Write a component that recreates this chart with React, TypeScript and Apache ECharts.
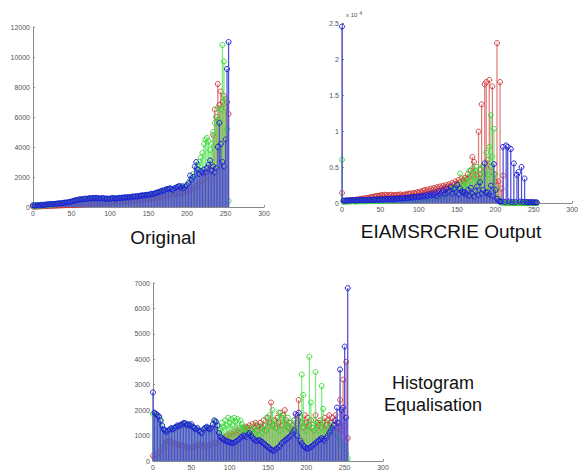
import React, { useEffect, useRef } from "react";
import * as echarts from "echarts";

// Bins are 0, 2, 4, ..., 254 (128 values, rows of 10 values = 20 bins each)
const BIN_STEP = 2;

// ---------- Original ----------
const ORIG_R = [
  30, 20, 40, 30, 50, 40, 60, 50, 70, 60,
  70, 80, 60, 90, 80, 100, 90, 110, 100, 120,
  110, 130, 120, 140, 130, 150, 140, 160, 150, 170,
  160, 180, 170, 190, 200, 180, 210, 200, 220, 230,
  220, 240, 250, 230, 260, 250, 270, 280, 260, 290,
  300, 280, 310, 320, 300, 330, 340, 320, 350, 360,
  370, 350, 380, 400, 390, 410, 430, 420, 450, 460,
  480, 470, 500, 520, 510, 540, 560, 550, 580, 600,
  620, 640, 660, 650, 690, 710, 700, 740, 760, 780,
  800, 820, 850, 830, 870, 900, 880, 920, 950, 980,
  1000, 1050, 1100, 1200, 1300, 1250, 1400, 1500, 1600, 1700,
  1800, 1900, 2100, 2000, 2300, 2500, 2800, 4800, 6500, 6000,
  8200, 6800, 7700, 7000, 7400, 6600, 7000, 6200,
];
const ORIG_G = [
  90, 60, 80, 100, 70, 110, 120, 100, 130, 140,
  150, 160, 170, 180, 160, 190, 200, 220, 210, 230,
  250, 270, 260, 290, 310, 330, 370, 400, 420, 440,
  470, 490, 470, 510, 530, 500, 540, 560, 530, 570,
  550, 580, 560, 540, 530, 570, 550, 520, 540, 510,
  530, 550, 570, 540, 530, 560, 580, 570, 600, 590,
  620, 610, 630, 600, 650, 670, 660, 690, 670, 710,
  730, 750, 730, 770, 790, 760, 820, 850, 830, 870,
  910, 950, 970, 1020, 1070, 1050, 1120, 1170, 1150, 1220,
  1170, 1120, 1220, 1270, 1320, 1370, 1270, 1350, 1220, 1400,
  1450, 1500, 1800, 1900, 2200, 2100, 2600, 2800, 3000, 3300,
  3600, 4200, 4500, 4600, 4400, 3800, 4200, 5000, 5600, 6000,
  6600, 5700, 6500, 10800, 9700, 7200, 5200, 400,
];
const ORIG_B = [
  120, 90, 110, 130, 100, 140, 150, 130, 160, 170,
  180, 190, 200, 210, 190, 220, 230, 250, 240, 260,
  280, 300, 290, 320, 340, 360, 400, 430, 450, 470,
  500, 520, 500, 540, 560, 530, 570, 590, 560, 600,
  580, 610, 590, 570, 560, 600, 580, 550, 570, 540,
  560, 580, 600, 570, 560, 590, 610, 600, 630, 620,
  650, 640, 660, 630, 680, 700, 690, 720, 700, 740,
  760, 780, 760, 800, 820, 790, 850, 880, 860, 900,
  940, 980, 1000, 1050, 1100, 1080, 1150, 1200, 1180, 1250,
  1200, 1150, 1250, 1300, 1350, 1400, 1300, 1380, 1250, 1350,
  1450, 1600, 2100, 1800, 2000, 2700, 3000, 2500, 2200, 2400,
  2300, 2500, 2300, 2600, 2800, 3100, 2400, 2700, 2300, 2600,
  4000, 5600, 4200, 3000, 2700, 4500, 9200, 11000,
];

// ---------- EIAMSRCRIE Output ----------
const EIA_R = [
  1400, 200, 250, 300, 280, 350, 320, 400, 380, 450,
  500, 480, 550, 600, 580, 650, 700, 680, 750, 800,
  850, 900, 950, 1000, 980, 1050, 1100, 1000, 1150, 1100,
  1050, 1100, 1150, 1000, 1100, 1050, 1150, 1100, 1200, 1050,
  1100, 1200, 1150, 1300, 1250, 1350, 1200, 1400, 1300, 1500,
  1400, 1600, 1500, 1700, 1800, 1600, 1900, 1700, 2000, 1800,
  2100, 1900, 2200, 2000, 2300, 2100, 2400, 2200, 2500, 2300,
  2600, 2400, 2800, 2600, 3000, 2700, 3200, 2900, 3400, 3100,
  3500, 3300, 4000, 3600, 4500, 6400, 5700, 4500, 3800, 9900,
  4000, 13700, 5000, 16500, 16800, 6000, 17100, 5000, 16200, 4000,
  3000, 22200, 3000, 16800, 2000, 3800, 100, 50, 30, 20,
  10, 0, 0, 0, 0, 0, 0, 0, 0, 0,
  0, 0, 0, 0, 0, 0, 0, 0,
];
const EIA_G = [
  6000, 200, 180, 220, 190, 240, 210, 250, 230, 200,
  240, 220, 250, 230, 260, 240, 230, 260, 280, 250,
  270, 290, 260, 300, 280, 310, 290, 280, 320, 310,
  340, 320, 350, 360, 330, 370, 350, 380, 370, 400,
  420, 390, 430, 410, 450, 480, 430, 510, 470, 540,
  490, 570, 530, 600, 540, 660, 570, 720, 630, 780,
  660, 840, 600, 960, 720, 900, 1080, 780, 1200, 840,
  1500, 1900, 1700, 2200, 1900, 2500, 2100, 4100, 2300, 2500,
  3000, 2600, 3500, 4500, 3200, 4800, 4200, 3500, 5000, 3000,
  4600, 3200, 5200, 4000, 7000, 4000, 7800, 12200, 6500, 10300,
  4000, 2000, 600, 100, 50, 30, 20, 10, 0, 0,
  0, 0, 0, 0, 0, 0, 0, 0, 0, 0,
  0, 0, 0, 0, 0, 0, 0, 0,
];
const EIA_B = [
  24500, 350, 300, 380, 320, 400, 360, 420, 380, 340,
  400, 370, 420, 390, 440, 410, 380, 430, 460, 420,
  450, 480, 430, 500, 470, 520, 490, 460, 540, 510,
  560, 530, 580, 600, 550, 620, 590, 640, 610, 660,
  700, 650, 720, 680, 750, 800, 720, 850, 780, 900,
  820, 950, 880, 1000, 900, 1100, 950, 1200, 1050, 1300,
  1100, 1400, 1000, 1600, 1200, 1500, 1800, 1300, 2000, 1400,
  1700, 2200, 1300, 1900, 1500, 2500, 1200, 2000, 1600, 1400,
  1500, 1200, 1800, 1000, 2100, 1300, 900, 1600, 2300, 1100,
  2900, 1300, 1800, 5500, 1400, 1500, 1200, 2400, 1000, 5400,
  1800, 600, 300, 200, 200, 7800, 150, 8000, 7800, 200,
  7500, 150, 5500, 150, 3900, 4300, 200, 5000, 150, 3400,
  150, 120, 100, 130, 110, 90, 100, 80,
];

// ---------- Histogram Equalisation ----------
const HE_R = [
  200, 150, 250, 300, 350, 400, 500, 600, 700, 750,
  800, 780, 750, 720, 700, 680, 650, 640, 620, 600,
  580, 560, 550, 530, 520, 540, 560, 580, 600, 620,
  640, 620, 600, 650, 620, 600, 580, 620, 650, 700,
  680, 720, 700, 750, 800, 850, 900, 950, 1000, 1050,
  1000, 1100, 1050, 1150, 1100, 1200, 1150, 1250, 1200, 1300,
  1250, 1350, 1300, 1400, 1200, 1450, 1300, 1500, 1400, 1350,
  1500, 1300, 1600, 1400, 1200, 1700, 1500, 2300, 1400, 1600,
  1300, 1700, 1500, 1900, 1400, 1800, 2000, 1600, 1300, 1500,
  1200, 1400, 1600, 1300, 1800, 2400, 1700, 1500, 1300, 1800,
  1500, 1700, 1400, 1600, 1300, 1200, 1800, 1500, 1400, 1600,
  1300, 1500, 1700, 1400, 1600, 1800, 1500, 1700, 1400, 1800,
  1500, 1300, 2400, 1200, 3200, 1400, 3900, 900,
];
const HE_G = [
  1850, 1860, 1810, 1760, 1710, 1560, 1360, 1210, 1160, 1110,
  1160, 1210, 1260, 1210, 1260, 1310, 1360, 1340, 1380, 1410,
  1460, 1440, 1380, 1410, 1360, 1410, 1310, 1260, 1210, 1260,
  1160, 1110, 1060, 1210, 1260, 1310, 1260, 1210, 1260, 1410,
  1560, 1510, 1360, 1200, 1250, 1500, 1350, 1600, 1400, 1700,
  1500, 1650, 1400, 1700, 1550, 1650, 1300, 1600, 1450, 1350,
  1250, 1200, 1100, 1300, 1050, 1250, 1100, 1400, 1200, 1000,
  1300, 1100, 1400, 1200, 1700, 1300, 1800, 1500, 2000, 1400,
  1600, 1300, 1900, 1200, 1700, 1800, 1500, 1400, 1700, 1300,
  1500, 1200, 1600, 1100, 1400, 1300, 1700, 3400, 2600, 1500,
  1200, 1400, 4100, 2300, 1300, 1600, 3500, 1400, 1200, 1500,
  2950, 2050, 1300, 1100, 1500, 1200, 1400, 1300, 1200, 1100,
  1000, 900, 800, 700, 600, 500, 300, 100,
];
const HE_B = [
  2700, 1900, 1850, 1800, 1750, 1600, 1400, 1250, 1200, 1150,
  1200, 1250, 1300, 1250, 1300, 1350, 1400, 1380, 1420, 1450,
  1500, 1480, 1420, 1450, 1400, 1450, 1350, 1300, 1250, 1300,
  1200, 1150, 1100, 1250, 1300, 1350, 1300, 1250, 1300, 1450,
  1600, 1550, 1400, 1100, 950, 900, 850, 800, 780, 760,
  740, 720, 700, 730, 760, 800, 850, 900, 950, 1000,
  980, 950, 1050, 1100, 1000, 900, 850, 800, 780, 820,
  800, 750, 700, 650, 600, 550, 500, 450, 420, 400,
  450, 500, 550, 600, 700, 750, 800, 850, 900, 950,
  1000, 1100, 1200, 1850, 1000, 1900, 800, 700, 600, 550,
  500, 480, 520, 550, 600, 650, 700, 750, 800, 850,
  900, 850, 800, 900, 1000, 1100, 1200, 1300, 1400, 1600,
  2100, 1500, 3600, 2000, 2100, 4500, 1700, 6800,
];

const X_TICKS = { min: 0, max: 300, interval: 50 };
const TITLES = ["Original", "EIAMSRCRIE Output", "Histogram", "Equalisation"];

const CH = {
  r: { stem: "rgba(215,80,80,0.75)", mark: "rgba(205,50,50,0.9)" },
  g: { stem: "rgba(80,225,80,0.75)", mark: "rgba(50,215,50,0.9)" },
  b: { stem: "rgb(78,78,214)", mark: "rgba(25,25,215,0.95)" },
};

const FONT = "Liberation Sans";

function stemSeries(values: number[], idx: number, ch: { stem: string; mark: string }) {
  return {
    type: "custom",
    xAxisIndex: idx,
    yAxisIndex: idx,
    data: values.map((v, i) => [i * BIN_STEP, v]),
    encode: { x: 0, y: 1 },
    silent: true,
    renderItem: (_p: any, api: any) => {
      const x = api.value(0);
      const y = api.value(1);
      const top = api.coord([x, y]);
      const base = api.coord([x, 0]);
      return {
        type: "group",
        children: [
          {
            type: "line",
            shape: { x1: base[0], y1: base[1], x2: top[0], y2: top[1] },
            style: { stroke: ch.stem, lineWidth: 1.25 },
          },
          {
            type: "circle",
            shape: { cx: top[0], cy: top[1], r: 2.5 },
            style: { fill: "none", stroke: ch.mark, lineWidth: 1 },
          },
        ],
      };
    },
  };
}

function xAxis(idx: number) {
  return {
    type: "value",
    gridIndex: idx,
    ...X_TICKS,
    axisLine: { show: true, onZero: false, lineStyle: { color: "#8a8a8a", width: 1 } },
    axisTick: { show: true, inside: true, length: 2, lineStyle: { color: "#8a8a8a" } },
    axisLabel: { fontSize: 7, color: "#555", margin: 3, fontFamily: FONT, formatter: (v: number) => String(v) },
    splitLine: { show: false },
  };
}

function yAxis(idx: number, max: number, interval: number, fmt: (v: number) => string) {
  return {
    type: "value",
    gridIndex: idx,
    min: 0,
    max,
    interval,
    axisLine: { show: true, lineStyle: { color: "#8a8a8a", width: 1 } },
    axisTick: { show: true, inside: true, length: 2, lineStyle: { color: "#8a8a8a" } },
    axisLabel: { fontSize: 7, color: "#555", margin: 3, fontFamily: FONT, formatter: fmt },
    splitLine: { show: false },
  };
}

export default function App() {
  const ref = useRef<HTMLDivElement>(null);
  useEffect(() => {
    document.body.style.margin = "0";
    const chart = echarts.init(ref.current!, undefined, { renderer: "svg" });
    chart.setOption({
      animation: false,
      backgroundColor: "#fff",
      grid: [
        { left: 33, top: 27, width: 231, height: 180 },
        { left: 342, top: 23, width: 231, height: 180 },
        { left: 153, top: 283, width: 230, height: 179 },
      ],
      xAxis: [xAxis(0), xAxis(1), xAxis(2)],
      yAxis: [
        yAxis(0, 12000, 2000, (v: number) => String(v)),
        yAxis(1, 25000, 5000, (v: number) => String(v / 10000)),
        yAxis(2, 7000, 1000, (v: number) => String(v)),
      ],
      series: [
        stemSeries(ORIG_R, 0, CH.r),
        stemSeries(ORIG_G, 0, CH.g),
        stemSeries(ORIG_B, 0, CH.b),
        stemSeries(EIA_R, 1, CH.r),
        stemSeries(EIA_G, 1, CH.g),
        stemSeries(EIA_B, 1, CH.b),
        stemSeries(HE_R, 2, CH.r),
        stemSeries(HE_G, 2, CH.g),
        stemSeries(HE_B, 2, CH.b),
      ],
      graphic: [
        {
          type: "text",
          x: 346,
          y: 12,
          style: { text: "x 10", fontSize: 6, fill: "#555", fontFamily: FONT },
        },
        {
          type: "text",
          x: 359.5,
          y: 10,
          style: { text: "4", fontSize: 5, fill: "#555", fontFamily: FONT },
        },
        {
          type: "text",
          x: 163,
          y: 237,
          style: { text: TITLES[0], fontSize: 19, fill: "#111", fontFamily: FONT, align: "center", verticalAlign: "middle" },
        },
        {
          type: "text",
          x: 451,
          y: 231,
          style: { text: TITLES[1], fontSize: 19, fill: "#111", fontFamily: FONT, align: "center", verticalAlign: "middle" },
        },
        {
          type: "text",
          x: 433,
          y: 383,
          style: { text: TITLES[2], fontSize: 18, fill: "#111", fontFamily: FONT, align: "center", verticalAlign: "middle" },
        },
        {
          type: "text",
          x: 433,
          y: 405,
          style: { text: TITLES[3], fontSize: 18, fill: "#111", fontFamily: FONT, align: "center", verticalAlign: "middle" },
        },
      ],
    });
    return () => chart.dispose();
  }, []);
  return <div ref={ref} style={{ width: 581, height: 471, background: "#fff" }} />;
}
